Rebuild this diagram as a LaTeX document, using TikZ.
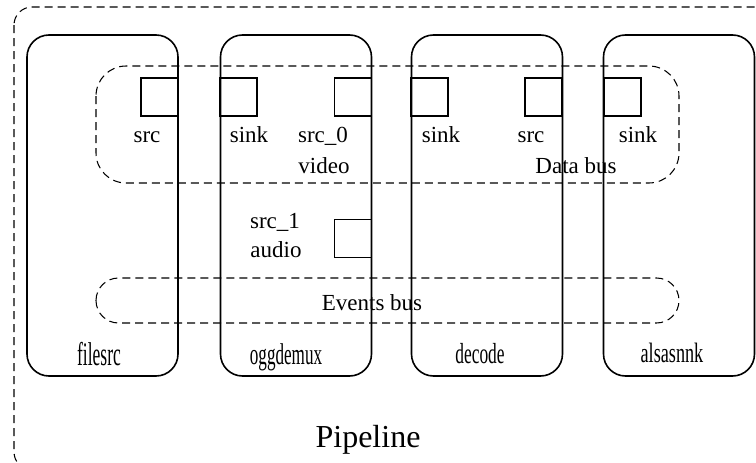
\documentclass[tikz,border=0pt]{standalone}
\usepackage{fontspec}
\setmainfont{Liberation Serif}
\usepackage{graphicx}
\tikzset{
  elem/.style={draw, line width=1.6pt, rounded corners=22pt, minimum width=151pt, minimum height=341pt, inner sep=0pt},
  pad/.style={draw, line width=1.4pt, minimum width=37pt, minimum height=38pt, inner sep=0pt},
  bus/.style={draw, line width=1.05pt, dash pattern=on 8pt off 5pt},
  lbl/.style={anchor=base, inner sep=0pt, font=\fontsize{23}{27}\selectfont},
  ename/.style={anchor=base, inner sep=0pt},
}
\begin{document}
\begin{tikzpicture}[x=1pt, y=-1pt]
\useasboundingbox (0,0) rectangle (756,463);
\clip (0,0) rectangle (756,463);

% pipeline frame
\draw[bus, rounded corners=18pt] (14,7) rectangle (774,470);

% elements
\node[elem] (filesrc) at (102.5,205.5) {};
\node[elem] (oggdemux) at (296,205.5) {};
\node[elem] (decode) at (487,205.5) {};
\node[elem] (alsasink) at (679,205.5) {};

% buses
\draw[bus, rounded corners=30pt] (96,66) rectangle (679,183);
\draw[bus, rounded corners=22.5pt] (96,278) rectangle (679,323);

% pads
\node[pad] (fsrc) at (159.5,97) {};
\node[pad] (osink) at (238.5,97) {};
\node[pad] (osrc0) at (353,97) {};
\node[pad] (osrc1) at (353,238.5) {};
\node[pad] (dsink) at (429.5,97) {};
\node[pad] (dsrc) at (543.5,97) {};
\node[pad] (asink) at (622.5,97) {};

% pad labels
\node[lbl] (lfsrc) at (147,142) {src};
\node[lbl] (losink) at (249,142) {sink};
\node[lbl] (losrc0) at (323,142) {src\_0};
\node[lbl] (lvideo) at (324,173) {video};
\node[lbl] (losrc1) at (275,228) {src\_1};
\node[lbl] (laudio) at (276,257) {audio};
\node[lbl] (ldsink) at (441,142) {sink};
\node[lbl] (ldsrc) at (531,142) {src};
\node[lbl] (lasink) at (638,142) {sink};

% bus labels
\node[lbl] (ldata) at (576,173) {Data bus};
\node[lbl] (levents) at (372,310) {Events bus};

% element names (condensed)
\node[ename, font=\fontsize{33}{36}\selectfont] (nfilesrc) at (99,365) {\scalebox{0.53}[1]{filesrc}};
\node[ename, font=\fontsize{30}{33}\selectfont] (noggdemux) at (286,364) {\scalebox{0.57}[1]{oggdemux}};
\node[ename, font=\fontsize{29}{32}\selectfont] (ndecode) at (480,363) {\scalebox{0.6}[1]{decode}};
\node[ename, font=\fontsize{28}{32}\selectfont] (nalsasink) at (672,362) {\scalebox{0.65}[1]{alsasnnk}};

% pipeline name
\node[anchor=base, inner sep=0pt, font=\fontsize{32}{36}\selectfont] (npipe) at (368,447) {Pipeline};
\end{tikzpicture}
\end{document}
